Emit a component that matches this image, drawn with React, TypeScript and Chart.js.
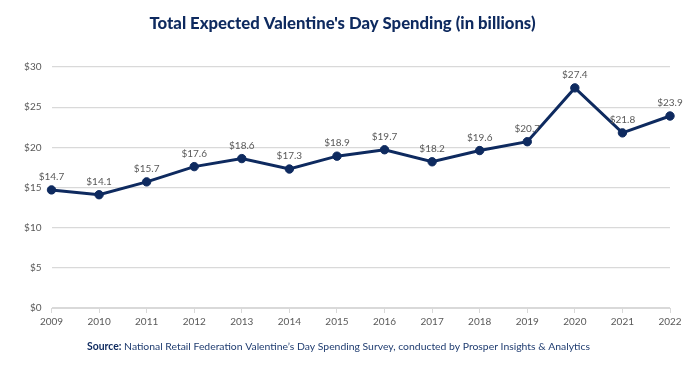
import React, { useEffect, useRef } from "react";
import { Chart, registerables } from "chart.js";

Chart.register(...registerables);

const years = ["2009", "2010", "2011", "2012", "2013", "2014", "2015", "2016", "2017", "2018", "2019", "2020", "2021", "2022"];
const spending = [14.7, 14.1, 15.7, 17.6, 18.6, 17.3, 18.9, 19.7, 18.2, 19.6, 20.7, 27.4, 21.8, 23.9];
const yMin = 0;
const yMax = 30;
const yStep = 5;
const titleText = "Total Expected Valentine's Day Spending (in billions)";
const sourceLabel = "Source:";
const sourceText = " National Retail Federation Valentine\u2019s Day Spending Survey, conducted by Prosper Insights & Analytics";

const NAVY = "#0e2a5f";
const GRID = "#d9d9d9";
const TEXT = "#595959";
const FONT = "Lato";

const decorPlugin = {
  id: "decor",
  afterDatasetsDraw(chart: any) {
    const ctx = chart.ctx;
    const meta = chart.getDatasetMeta(0);
    ctx.save();
    ctx.font = `10px ${FONT}`;
    ctx.fillStyle = TEXT;
    ctx.textAlign = "center";
    ctx.textBaseline = "alphabetic";
    meta.data.forEach((pt: any, i: number) => {
      ctx.fillText("$" + spending[i].toFixed(1), pt.x, pt.y - 10);
    });
    ctx.restore();
  },
  afterDraw(chart: any) {
    const ctx = chart.ctx;
    ctx.save();
    ctx.fillStyle = NAVY;
    ctx.textBaseline = "alphabetic";
    ctx.textAlign = "center";
    ctx.font = `900 16.7px ${FONT}`;
    ctx.fillText(titleText, 342.5, 29);
    ctx.textAlign = "left";
    ctx.font = `bold 10.4px ${FONT}`;
    const w1 = ctx.measureText(sourceLabel).width;
    ctx.font = `10.4px ${FONT}`;
    const w2 = ctx.measureText(sourceText).width;
    const x0 = 338.5 - (w1 + w2) / 2;
    ctx.font = `bold 10.4px ${FONT}`;
    ctx.fillText(sourceLabel, x0, 349.5);
    ctx.font = `10.4px ${FONT}`;
    ctx.fillStyle = "#1f3c70";
    ctx.fillText(sourceText, x0 + w1, 349.5);
    ctx.restore();
  },
};

export default function App() {
  const ref = useRef<HTMLCanvasElement>(null);
  useEffect(() => {
    if (!ref.current) return;
    const chart = new Chart(ref.current, {
      type: "line",
      data: {
        labels: years,
        datasets: [
          {
            data: spending,
            borderColor: NAVY,
            backgroundColor: NAVY,
            borderWidth: 3,
            pointRadius: 4.2,
            pointHoverRadius: 4.2,
            pointBorderWidth: 1,
            pointBackgroundColor: NAVY,
            pointBorderColor: NAVY,
            tension: 0,
            clip: false as any,
          },
        ],
      },
      options: {
        animation: false,
        responsive: true,
        maintainAspectRatio: false,
        layout: { padding: { left: 0, right: 30, top: 67, bottom: 48 } },
        plugins: {
          legend: { display: false },
          tooltip: { enabled: false },
          title: { display: false },
        },
        scales: {
          x: {
            offset: false,
            grid: { drawOnChartArea: false, drawTicks: true, tickLength: 5, color: GRID },
            border: { display: true, color: GRID },
            ticks: { color: TEXT, font: { family: FONT, size: 10 }, padding: 3, maxRotation: 0 },
            afterFit: (s: any) => {
              s.height = 22;
            },
          },
          y: {
            min: yMin,
            max: yMax,
            ticks: {
              stepSize: yStep,
              color: TEXT,
              font: { family: FONT, size: 10 },
              padding: 10,
              callback: (v: any) => "$" + v,
            },
            grid: { color: GRID, drawTicks: false, lineWidth: 1.3 },
            border: { display: false },
            afterFit: (s: any) => {
              s.width = 51.5;
            },
          },
        },
      },
      plugins: [decorPlugin],
    });
    return () => chart.destroy();
  }, []);
  return (
    <div style={{ position: "absolute", left: 0, top: 0, width: 700, height: 378, background: "#fff" }}>
      <canvas ref={ref} />
    </div>
  );
}
